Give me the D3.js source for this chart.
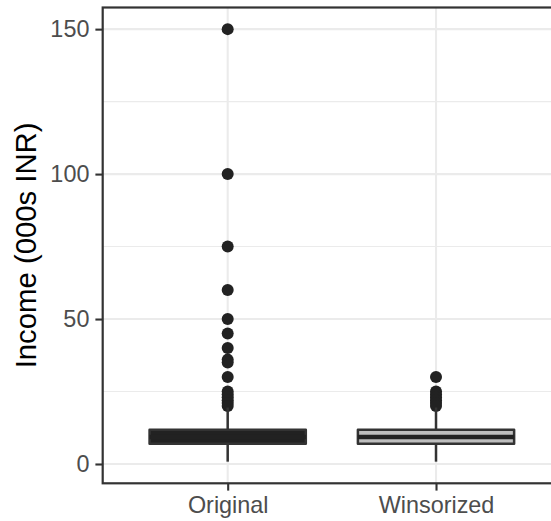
<!DOCTYPE html>
<html>
<head>
<meta charset="utf-8">
<script src="https://cdn.jsdelivr.net/npm/d3@7"></script>
<style>
  html, body { margin: 0; padding: 0; background: #fff; }
  svg { display: block; font-family: "Liberation Sans", Arial, Helvetica, sans-serif; }
</style>
</head>
<body>
<svg id="chart" width="551" height="521"></svg>
<script>
// values (income, thousands of INR)
var categories = ["Original", "Winsorized"];
var q1 = [7, 7];
var median = [9.3, 9.3];
var q3 = [11.8, 11.8];
var whiskerLow = [0.8, 0.8];
var whiskerHigh = [19.5, 19.5];
var outliersOriginal = [150, 100, 75, 60, 50, 45, 40, 36, 35, 30, 25, 24, 23, 22, 21, 20];
var outliersWinsorized = [30, 25, 24, 23, 22, 21, 20];
var boxFills = ["#222222", "#bebebe"];
var yTicks = [0, 50, 100, 150];
var yMinor = [25, 75, 125];

var outliers = [outliersOriginal, outliersWinsorized];

!function(){
  var svg = d3.select("#chart");
  // panel box (runs past the right edge of the picture, as in the reference)
  var pLeft = 102.7, pTop = 7.5, pRight = 561, pBottom = 483.3;

  // ggplot-style 5% expansion on the data range
  var lo = d3.min(whiskerLow), hi = d3.max(outliers, function(d){ return d3.max(d); });
  var pad = (hi - lo) * 0.05;
  var y = d3.scaleLinear().domain([lo - pad, hi + pad]).range([pBottom, pTop]);
  var x = d3.scalePoint().domain(categories).range([pLeft, pRight]).padding(0.6);
  var boxW = x.step() * 0.75;

  // gridlines
  var grid = svg.append("g");
  grid.selectAll(".minor").data(yMinor).enter().append("line")
    .attr("x1", pLeft).attr("x2", pRight)
    .attr("y1", function(d){ return y(d); }).attr("y2", function(d){ return y(d); })
    .attr("stroke", "#ebebeb").attr("stroke-width", 1.05);
  grid.selectAll(".major").data(yTicks).enter().append("line")
    .attr("x1", pLeft).attr("x2", pRight)
    .attr("y1", function(d){ return y(d); }).attr("y2", function(d){ return y(d); })
    .attr("stroke", "#ebebeb").attr("stroke-width", 2.1);
  grid.selectAll(".vmajor").data(categories).enter().append("line")
    .attr("y1", pTop).attr("y2", pBottom)
    .attr("x1", function(d){ return x(d); }).attr("x2", function(d){ return x(d); })
    .attr("stroke", "#ebebeb").attr("stroke-width", 2.1);

  // boxes
  var g = svg.append("g");
  categories.forEach(function(c, i){
    var cx = x(c);
    // outliers
    g.selectAll(null).data(outliers[i]).enter().append("circle")
      .attr("cx", cx).attr("cy", function(d){ return y(d); })
      .attr("r", 6).attr("fill", "#222");
    // whiskers
    g.append("line").attr("x1", cx).attr("x2", cx)
      .attr("y1", y(q3[i])).attr("y2", y(whiskerHigh[i]))
      .attr("stroke", "#333").attr("stroke-width", 2.5);
    g.append("line").attr("x1", cx).attr("x2", cx)
      .attr("y1", y(q1[i])).attr("y2", y(whiskerLow[i]))
      .attr("stroke", "#333").attr("stroke-width", 2.5);
    // box
    g.append("rect")
      .attr("x", cx - boxW / 2).attr("width", boxW)
      .attr("y", y(q3[i])).attr("height", y(q1[i]) - y(q3[i]))
      .attr("fill", boxFills[i]).attr("stroke", "#333").attr("stroke-width", 2.5)
      .attr("stroke-linejoin", "round");
    // median
    g.append("line")
      .attr("x1", cx - boxW / 2).attr("x2", cx + boxW / 2)
      .attr("y1", y(median[i])).attr("y2", y(median[i]))
      .attr("stroke", "#222").attr("stroke-width", 4.5);
  });

  // panel border
  svg.append("rect")
    .attr("x", pLeft).attr("y", pTop)
    .attr("width", pRight - pLeft).attr("height", pBottom - pTop)
    .attr("fill", "none").attr("stroke", "#333").attr("stroke-width", 2.2);

  // axes
  var yAxis = svg.append("g").attr("transform", "translate(" + pLeft + ",0)")
    .call(d3.axisLeft(y).tickValues(yTicks).tickSize(7.3).tickPadding(6));
  var xAxis = svg.append("g").attr("transform", "translate(0," + pBottom + ")")
    .call(d3.axisBottom(x).tickSize(7.3).tickPadding(6));
  [yAxis, xAxis].forEach(function(a){
    a.select(".domain").remove();
    a.selectAll(".tick line").attr("stroke", "#333").attr("stroke-width", 2.1);
    a.selectAll(".tick text").attr("fill", "#4d4d4d")
      .style("font-size", "23.4px").style("font-family", "'Liberation Sans', Arial, sans-serif");
  });

  // y title
  svg.append("text")
    .attr("transform", "translate(36," + ((pTop + pBottom) / 2) + ") rotate(-90)")
    .attr("text-anchor", "middle")
    .attr("fill", "#000")
    .style("font-size", "29.3px")
    .text("Income (000s INR)");
}();
</script>
</body>
</html>
